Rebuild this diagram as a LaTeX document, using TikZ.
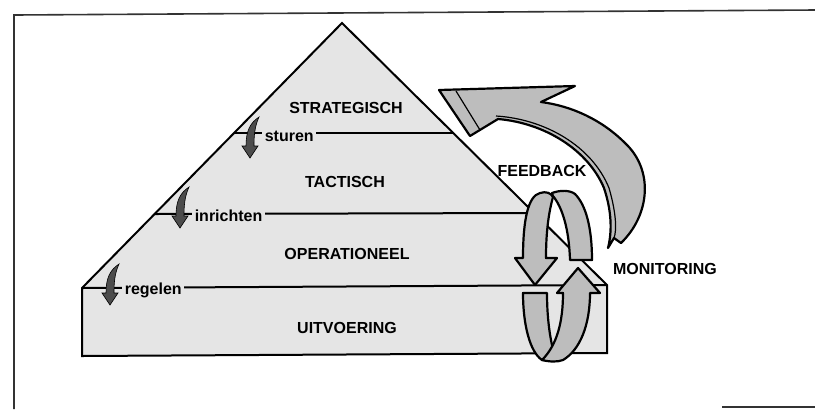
\documentclass[tikz,border=0pt]{standalone}
\usepackage{fontspec}
\setmainfont{Liberation Sans}
\usetikzlibrary{positioning}

\definecolor{vlak}{gray}{0.90}
\definecolor{lint}{gray}{0.74}
\definecolor{pijlgrijs}{gray}{0.30}

\tikzset{
  laag/.style={font=\bfseries\fontsize{8}{9}\selectfont},
  stuur/.style={font=\bfseries\fontsize{8}{9}\selectfont, fill=vlak, inner sep=1.2pt},
  rand/.style={line width=1pt, line join=miter},
  band/.style={draw=black, line width=1.1pt, fill=lint, line join=round},
  bocht/.pic={
    \filldraw[fill=pijlgrijs, draw=black, line width=0.3pt]
      (0,0) -- (-8,-12) -- (-4,-12)
      .. controls (-4,-27) and (0,-35) .. (9,-41)
      .. controls (5,-32) and (4,-24) .. (4,-12)
      -- (8,-12) -- cycle;
  }
}

\begin{document}
\begin{tikzpicture}[x=0.5pt,y=-0.5pt]
\useasboundingbox (0,0) rectangle (815,409);

% kader
\draw[black!80, line width=0.8pt] (14,409) -- (14,15) -- (815,10);
\draw[black!80, line width=0.8pt] (722,407) -- (815,407);

% piramide
\coordinate (top) at (342,23);
\coordinate (lb) at (82,288);
\coordinate (rb) at (607,285);
\coordinate (lo) at (82,356);
\coordinate (ro) at (607,353);
\fill[vlak] (top) -- (rb) -- (ro) -- (lo) -- (lb) -- cycle;

% niveaulijnen
\coordinate (s1) at (235,133);
\coordinate (s2) at (453,133);
\coordinate (i1) at (155,214);
\coordinate (i2) at (534,213);
\draw[line width=1pt] (s1) -- (s2);
\draw[line width=1pt] (i1) -- (i2);
\draw[rand] (lb) -- (rb);
\draw[rand] (lb) -- (top) -- (rb) -- (ro) -- (lo) -- cycle;

% niveaus
\node[laag] (strat) at (346,108) {STRATEGISCH};
\node[laag] (tact) at (345,182) {TACTISCH};
\node[laag] (oper) at (347,254) {OPERATIONEEL};
\node[laag] (uitv) at (347,328) {UITVOERING};

% sturing
\node[stuur, anchor=base west] (sturen) at (262,141) {sturen};
\node[stuur, anchor=base west] (inrichten) at (192,221) {inrichten};
\node[stuur, anchor=base west] (regelen) at (122,294) {regelen};
\pic at (250,158) {bocht};
\pic at (180,228) {bocht};
\pic at (110,305) {bocht};

% monitoring lus boven
\path[band] (570,260) .. controls (569,228) and (562,207) .. (553,196)
  -- (552,193) .. controls (560,190) and (570,190) .. (575,194)
  .. controls (586,205) and (592,228) .. (592,260) -- cycle;
\path[band] (523,258) .. controls (523,220) and (528,196) .. (540,193)
  .. controls (546,191) and (551,193) .. (553,197)
  .. controls (548,215) and (546,235) .. (546,258)
  -- (557,258) -- (535,285) -- (515,258) -- cycle;

% monitoring lus onder
\path[band] (523,293) .. controls (523,325) and (530,352) .. (542,360)
  -- (556,360) .. controls (551,345) and (547,322) .. (547,293) -- cycle;
\path[band] (563,293) .. controls (563,322) and (557,345) .. (542,360)
  .. controls (550,362) and (558,362) .. (563,360)
  .. controls (580,350) and (590,325) .. (590,293)
  -- (600,293) -- (578,268) -- (557,293) -- cycle;

% feedback pijl
\path[band] (621,243) .. controls (650,215) and (654,170) .. (625,143)
  .. controls (602,120) and (572,106) .. (541,102)
  -- (575,86) -- (439,90) -- (470,136) -- (498,119)
  .. controls (545,123) and (588,150) .. (604,188)
  .. controls (612,212) and (612,232) .. (608,248) -- (614,238) -- cycle;
\draw[line width=0.6pt] (496,116) .. controls (545,119) and (592,146) .. (609,188)
  .. controls (616,212) and (617,230) .. (614,238);
\draw[line width=0.6pt] (456,91) -- (480,130);

\node[laag] (feedback) at (542,171) {FEEDBACK};
\node[laag] (monitoring) at (665,269) {MONITORING};
\end{tikzpicture}
\end{document}
